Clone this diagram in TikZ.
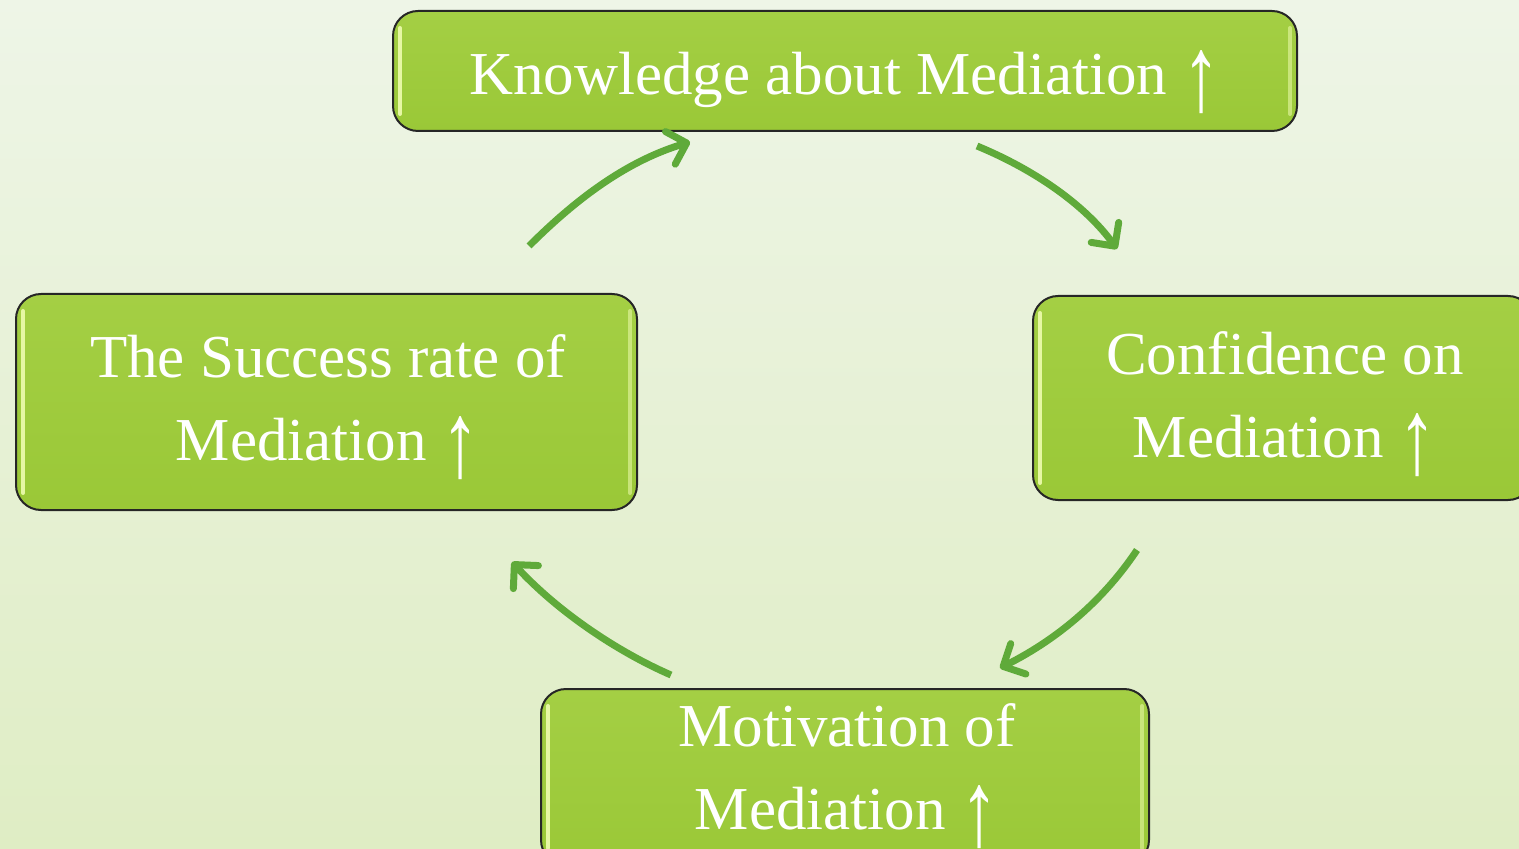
\documentclass[tikz,border=0pt]{standalone}
\usepackage{fontspec}
\usepackage{graphicx}
\setmainfont{Liberation Serif}
\usetikzlibrary{arrows.meta}
\definecolor{boxgreen}{HTML}{9AC837}
\definecolor{boxtop}{HTML}{A4CF44}
\definecolor{arrgreen}{HTML}{5FAA3A}
\definecolor{bgA}{HTML}{EEF5E7}
\definecolor{bgB}{HTML}{DFEDC4}
\definecolor{hilite}{HTML}{E6F7A4}
\newcommand\uparr{\smash{\raisebox{-8pt}{\scalebox{1.25}[1.75]{↑}}}}
\tikzset{
  cyclebox/.style={draw=black!85, line width=1pt, rounded corners=12.5pt,
    top color=boxtop, bottom color=boxgreen, inner sep=0pt},
  boxtext/.style={text=white, align=center, inner sep=0pt,
    font=\fontsize{30.5}{41.5}\selectfont},
  cyclearrow/.style={draw=arrgreen, line width=3.5pt,
    -{Straight Barb[length=8.5pt,width=17pt,round]}},
  hl/.style={draw=hilite, line width=2pt, line cap=round}
}
\begin{document}
\begin{tikzpicture}[x=0.5pt,y=-0.5pt]
\useasboundingbox (0,0) rectangle (1519,849);
\clip (0,0) rectangle (1519,849);
\shade[top color=bgA, bottom color=bgB] (0,0) rectangle (1519,849);

% boxes
\node[cyclebox, minimum width=452pt, minimum height=60pt] (know) at (845,71) {};
\node[cyclebox, minimum width=310.5pt, minimum height=108pt] (succ) at (326.5,402) {};
\node[cyclebox, minimum width=250pt, minimum height=102pt] (conf) at (1283,398) {};
\node[cyclebox, minimum width=304pt, minimum height=88pt] (moti) at (845,777) {};

% highlights
\foreach \b in {know,succ,conf,moti}{
  \draw[hl] ([xshift=4pt,yshift=-9pt]\b.north west) -- ([xshift=4pt,yshift=9pt]\b.south west);
  \draw[hl, draw opacity=0.6] ([xshift=-4pt,yshift=-9pt]\b.north east) -- ([xshift=-4pt,yshift=9pt]\b.south east);
}

% texts
\node[boxtext] (knowtxt) at (845,80) {Knowledge about Mediation \uparr};
\node[boxtext] (succtxt) at (328,398) {The Success rate of\\Mediation \uparr};
\node[boxtext] (conftxt) at (1285,395) {Confidence on\\Mediation \uparr};
\node[boxtext] (mototxt) at (847,767) {Motivation of\\Mediation \uparr};

% arrow ends
\coordinate (a1s) at (529,246); \coordinate (a1e) at (690,142);
\coordinate (a2s) at (977,146); \coordinate (a2e) at (1117,249);
\coordinate (a3s) at (1137,550); \coordinate (a3e) at (1000,668);
\coordinate (a4s) at (671,675); \coordinate (a4e) at (512,562);

\draw[cyclearrow] (a1s) .. controls (580,195) and (630,160) .. (a1e);
\draw[cyclearrow] (a2s) .. controls (1035,170) and (1085,205) .. (a2e);
\draw[cyclearrow] (a3s) .. controls (1105,598) and (1060,638) .. (a3e);
\draw[cyclearrow] (a4s) .. controls (618,652) and (558,612) .. (a4e);
\end{tikzpicture}
\end{document}
